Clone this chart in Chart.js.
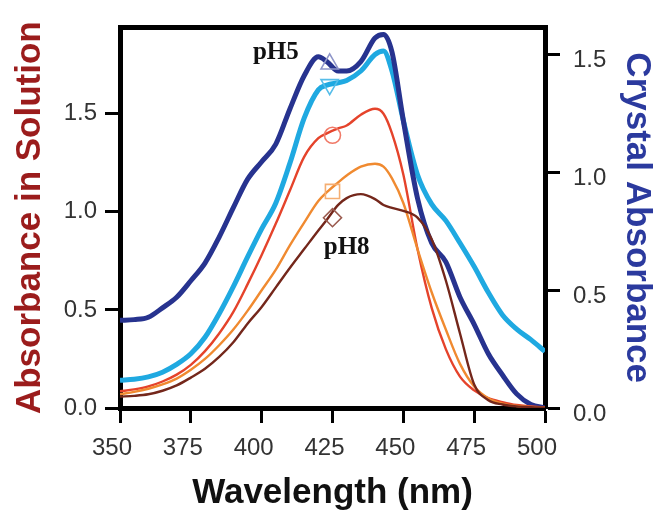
<!DOCTYPE html>
<html><head><meta charset="utf-8">
<script src="https://cdn.jsdelivr.net/npm/chart.js@4.4.0/dist/chart.umd.min.js"></script>
<style>html,body{margin:0;padding:0;background:#fff;}#wrap{width:660px;height:515px;}</style>
</head><body><div id="wrap"><canvas id="c" width="660" height="515"></canvas></div>
<script>
const wavelengths = [350,355,360,365,370,375,380,385,390,395,400,405,410,415,420,423,427,430,435,440,443,446,450,455,460,465,470,475,480,485,490,495,500];
// Crystal absorbance (right axis)
const crystalNavy  = [0.372,0.375,0.385,0.425,0.47,0.54,0.615,0.725,0.85,0.97,1.045,1.12,1.27,1.41,1.49,1.47,1.43,1.43,1.47,1.57,1.585,1.51,1.22,0.89,0.70,0.62,0.47,0.355,0.23,0.14,0.06,0.015,0.0];
const crystalLight = [0.118,0.122,0.132,0.152,0.185,0.23,0.30,0.40,0.515,0.64,0.76,0.87,1.04,1.23,1.35,1.37,1.38,1.39,1.43,1.50,1.515,1.43,1.22,0.99,0.865,0.795,0.70,0.60,0.49,0.395,0.335,0.29,0.24];
// Absorbance in solution (left axis)
const solutionRed    = [0.085,0.095,0.11,0.135,0.17,0.22,0.29,0.38,0.49,0.63,0.78,0.94,1.11,1.28,1.375,1.40,1.425,1.44,1.495,1.525,1.50,1.40,1.19,0.81,0.51,0.30,0.16,0.09,0.05,0.03,0.015,0.008,0.003];
const solutionOrange = [0.07,0.082,0.098,0.12,0.15,0.195,0.25,0.32,0.40,0.495,0.60,0.705,0.83,0.945,1.055,1.10,1.15,1.185,1.23,1.245,1.23,1.17,1.045,0.81,0.59,0.40,0.225,0.11,0.05,0.022,0.01,0.005,0.002];
const solutionBrown  = [0.058,0.062,0.07,0.088,0.115,0.155,0.20,0.26,0.335,0.43,0.515,0.615,0.715,0.81,0.905,0.96,1.035,1.07,1.09,1.065,1.035,1.02,1.005,0.97,0.86,0.65,0.38,0.12,0.04,0.018,0.008,0.004,0.002];
// Hollow markers at ~425 nm
const markerX = [424,424,425,425,425];
const markerY = [1.46,1.372,1.39,1.104,0.97];
// Text annotations
const annotationText = ['pH5','pH8'];
const annotationX = [405,430];
const annotationY = [1.81,0.82];
// Ticks
const xTicks = [350,375,400,425,450,475,500];
const yTicks = [0.0,0.5,1.0,1.5];

const sans = '"Liberation Sans", Arial, Helvetica, sans-serif';
const toXY = arr => wavelengths.map((w,i)=>({x:w,y:arr[i]}));

function lineDs(label, arr, color, width, axis, order){
  return {label, data: toXY(arr), yAxisID: axis, borderColor: color, borderWidth: width,
    pointRadius: 0, fill: false, cubicInterpolationMode: 'monotone', order};
}
function markerDs(i, style, color, rotation, axis, radius){
  return {label:'m'+i, data:[{x:markerX[i], y:markerY[i]}], yAxisID: axis, showLine:false,
    pointStyle: style, pointRadius: radius, pointRotation: rotation, pointBorderColor: color,
    pointBackgroundColor: 'rgba(255,255,255,0)', pointBorderWidth: 1.6, order: 0};
}

const textPlugin = {
  id: 'phText',
  afterDatasetsDraw(chart){
    const {ctx, scales} = chart;
    ctx.save();
    ctx.font = 'bold 25px "Liberation Serif", "Times New Roman", serif';
    ctx.fillStyle = '#111';
    ctx.textAlign = 'center';
    ctx.textBaseline = 'middle';
    annotationText.forEach((t,i)=>{
      ctx.fillText(t, scales.x.getPixelForValue(annotationX[i]), scales.y.getPixelForValue(annotationY[i]));
    });
    ctx.restore();
  }
};

const tickGrid = {display:true, drawOnChartArea:false, drawTicks:true, tickLength:15, tickWidth:3, tickColor:'#000'};
const border = {display:true, width:5, color:'#000'};

new Chart(document.getElementById('c'), {
  type: 'line',
  data: { datasets: [
    markerDs(0,'triangle','#8f96c9',0,'y2',10),
    markerDs(1,'triangle','#56bde9',180,'y2',10),
    markerDs(2,'circle','#f07a68',0,'y',8),
    markerDs(3,'rect','#f5ae72',0,'y',10),
    markerDs(4,'rectRot','#9a5a4e',0,'y',9),
    lineDs('Solution brown', solutionBrown, '#74271b', 2.4, 'y', 1),
    lineDs('Solution orange', solutionOrange, '#f08a30', 2.4, 'y', 2),
    lineDs('Solution red', solutionRed, '#e5432b', 2.4, 'y', 3),
    lineDs('Crystal navy', crystalNavy, '#27338f', 5, 'y2', 4),
    lineDs('Crystal light', crystalLight, '#1fa9e1', 5, 'y2', 5)
  ]},
  options: {
    responsive: false, animation: false, devicePixelRatio: 1,
    layout: {padding: 0},
    plugins: {legend:{display:false}, tooltip:{enabled:false}},
    scales: {
      x: {type:'linear', position:'bottom', min:350, max:500,
        afterFit(s){ s.height = 107; },
        afterBuildTicks(s){ s.ticks = xTicks.map(v=>({value:v})); },
        ticks:{font:{family:sans, size:24}, color:'#333', padding:11, labelOffset:-8, maxRotation:0, autoSkip:false},
        grid: tickGrid, border,
        title:{display:true, text:'Wavelength (nm)', color:'#111', font:{family:sans, size:35, weight:'bold'}, padding:{top:0, bottom:1}}
      },
      xTop: {type:'linear', position:'top', min:350, max:500,
        afterFit(s){ s.height = 16; },
        ticks:{display:false}, grid:{display:false, drawTicks:false}, border
      },
      y: {type:'linear', position:'left', min:0, max:1.94,
        afterFit(s){ s.width = 120; },
        afterBuildTicks(s){ s.ticks = yTicks.map(v=>({value:v})); },
        ticks:{font:{family:sans, size:24}, color:'#333', padding:8, callback:v=>Number(v).toFixed(1)},
        grid: tickGrid, border,
        title:{display:true, text:'Absorbance in Solution', color:'#9b1c1c', font:{family:sans, size:35, weight:'bold'}, padding:{top:9, bottom:0}}
      },
      y2: {type:'linear', position:'right', min:0, max:1.615,
        afterFit(s){ s.width = 115; },
        afterBuildTicks(s){ s.ticks = yTicks.map(v=>({value:v})); },
        ticks:{font:{family:sans, size:24}, color:'#333', padding:13, labelOffset:6, callback:v=>Number(v).toFixed(1)},
        grid: tickGrid, border,
        title:{display:true, text:'Crystal Absorbance', color:'#2b3a9e', font:{family:sans, size:35, weight:'bold'}, padding:{top:2, bottom:0}}
      }
    }
  },
  plugins: [textPlugin]
});
</script></body></html>
